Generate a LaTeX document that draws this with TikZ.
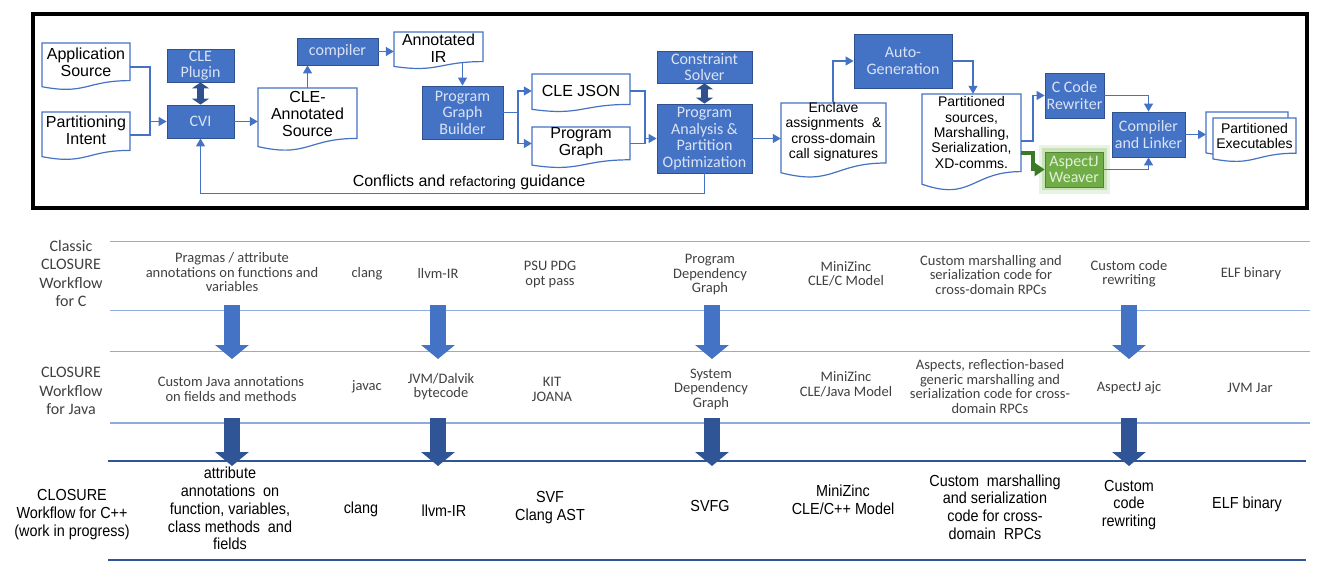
\documentclass[tikz,border=0pt]{standalone}
\usepackage{fontspec}
\setmainfont{Liberation Sans}
\newfontfamily\calibri{Carlito}
\newfontfamily\narrowsans[FakeStretch=0.9]{Liberation Sans}
\usetikzlibrary{arrows.meta}

\definecolor{cleblue}{HTML}{4472C4}
\definecolor{cleedge}{HTML}{2F528F}
\definecolor{cletext}{HTML}{DAE3F3}
\definecolor{darkblue}{HTML}{2F5597}
\definecolor{lineblue}{HTML}{8FAADC}
\definecolor{weavegreen}{HTML}{70AD47}
\definecolor{weaveedge}{HTML}{548235}
\definecolor{glowgreen}{HTML}{A9D18E}
\definecolor{arrowgreen}{HTML}{3B7A25}
\definecolor{weavetext}{HTML}{E2F0D9}
\definecolor{celltext}{HTML}{404040}

% document shape with wavy bottom: x1, top, x2, height
\newcommand{\docshape}[4]{%
  \draw[docline] (#1,#2) -- (#3,#2) -- (#3,{#2+0.80*#4})
    .. controls ({(#1+#3)/2},{#2+0.80*#4}) and ({(#1+#3)/2},{#2+1.11*#4}) .. (#1,{#2+0.93*#4}) -- cycle;}

\begin{document}
\begin{tikzpicture}[x=1pt, y=-1pt,
    proc/.style={fill=cleblue, draw=cleedge, line width=0.8pt, text=cletext,
      font=\calibri\fontsize{16}{16.5}\selectfont, align=center, inner sep=0pt},
    weave/.style={proc, fill=weavegreen, draw=weaveedge, text=weavetext,
      preaction={draw=glowgreen, line width=13pt, opacity=0.25},
      preaction={draw=glowgreen, line width=7pt, opacity=0.5}},
    docline/.style={draw=cleblue, fill=white, line width=1.2pt},
    doctext/.style={font=\fontsize{16}{17}\selectfont, align=center, inner sep=0pt},
    docsmall/.style={doctext, font=\fontsize{14}{15.3}\selectfont},
    wire/.style={cleblue, line width=1.2pt},
    flow/.style={wire, -{Triangle[width=9pt,length=8pt]}},
    greenflow/.style={arrowgreen, line width=3.2pt, -{Triangle[width=13pt,length=10pt]}},
    dbl/.style={cleedge, line width=7pt, {Triangle[width=17pt,length=6pt]}-{Triangle[width=17pt,length=6pt]}},
    bigarrow/.style={line width=16pt, -{Triangle[width=33pt,length=14pt]}},
    rowlabel/.style={font=\calibri\fontsize{16}{18.3}\selectfont, align=center, text=celltext},
    cell/.style={font=\calibri\fontsize{14.5}{14.5}\selectfont, align=center, text=celltext},
    cellcpp/.style={font=\narrowsans\fontsize{16}{17.8}\selectfont, align=center}]
  \useasboundingbox (0,0) rectangle (1324,580);

  % ---- CLOSURE toolchain ----
  \draw[line width=3.5pt] (33,14) rectangle (1307,208);

  \docshape{42}{43}{130}{47}
  \node[doctext, minimum width=88pt] (appsrc) at (86,62.5) {Application\\Source};
  \docshape{42}{112}{130}{48}
  \node[doctext, minimum width=88pt] (partint) at (86,130) {Partitioning\\Intent};
  \docshape{258}{88}{357}{63}
  \node[doctext, minimum width=99pt, minimum height=51pt] (cleann) at (307.5,113.5) {CLE-\\Annotated\\Source};
  \docshape{394}{32}{483}{37}
  \node[doctext, minimum width=89pt] (annir) at (438.5,48.5) {Annotated\\IR};
  \docshape{532}{74}{630}{38}
  \node[doctext, minimum width=98pt] (clejson) at (581,91) {CLE JSON};
  \docshape{532}{127}{630}{41}
  \node[doctext, minimum width=98pt] (proggraph) at (581,143.5) {Program\\Graph};
  \docshape{781}{103}{886}{75}
  \node[docsmall, minimum width=105pt, minimum height=58pt] (enclave) at (833.5,132) {Enclave\\assignments~~\&\\cross-domain\\call signatures};
  \docshape{922}{94}{1021}{97}
  \node[docsmall, minimum width=99pt, minimum height=77pt] (partsrc) at (971.5,132.5) {Partitioned\\sources,\\Marshalling,\\Serialization,\\XD-comms.};
  \docshape{1206}{112}{1288}{44}
  \docshape{1213}{118}{1296}{44}
  \node[docsmall, minimum width=83pt] (exec) at (1254.5,136) {Partitioned\\Executables};
  \coordinate (execback) at (1206,134.5);

  \node[proc, minimum width=67pt, minimum height=33pt] (cleplugin) at (200.5,65.5) {CLE\\Plugin};
  \node[proc, minimum width=67pt, minimum height=33pt] (cvi) at (200.5,121.5) {CVI};
  \node[proc, minimum width=81pt, minimum height=27pt] (compiler) at (337.5,51.5) {compiler};
  \node[proc, minimum width=81pt, minimum height=53pt] (pgb) at (462.5,112.5) {Program\\Graph\\Builder};
  \node[proc, minimum width=95pt, minimum height=32pt] (solver) at (704.5,67) {Constraint\\Solver};
  \node[proc, minimum width=95pt, minimum height=69pt] (papo) at (704.5,138.5) {Program\\Analysis \&\\Partition\\Optimization};
  \node[proc, minimum width=98pt, minimum height=54pt] (autogen) at (903,61) {Auto-\\Generation};
  \node[proc, minimum width=59pt, minimum height=45pt] (rewriter) at (1074.5,95.5) {C Code\\Rewriter};
  \node[weave, minimum width=58pt, minimum height=35pt] (weaver) at (1074,169.5) {AspectJ\\Weaver};
  \node[proc, minimum width=73pt, minimum height=45pt] (linker) at (1148.5,134.5) {Compiler\\and Linker};

  \coordinate (j1) at (150,121.5);
  \coordinate (j2) at (518,112.5);
  \coordinate (j3) at (645,138.5);
  \coordinate (e1) at (833,62);
  \coordinate (a1) at (973,0);
  \coordinate (p1) at (1033,141);
  \coordinate (p2) at (1033,153);

  \draw[wire] ([yshift=-4.5pt]appsrc.east) -| (j1);
  \draw[wire] ([yshift=-5pt]partint.east) -| (j1);
  \draw[flow] (j1) -- (cvi.west);
  \draw[dbl] (cleplugin.south) -- (cvi.north);
  \draw[flow] (cvi.east) -- (cvi.east -| cleann.west);
  \draw[flow] (cleann.north) -- (cleann.north |- compiler.south);
  \draw[flow] (compiler.east) -- (compiler.east -| annir.west);
  \draw[flow] (pgb.north |- 0,63) -- (pgb.north);
  \draw[wire] (pgb.east) -- (j2);
  \draw[flow] (j2) |- (clejson.west);
  \draw[flow] (j2) |- (proggraph.west);
  \draw[wire] (clejson.east) -| (j3);
  \draw[wire] (proggraph.east) -| (j3);
  \draw[flow] (j3) -- (papo.west);
  \draw[dbl] (solver.south) -- (papo.north);
  \draw[flow] (papo.east) -- (papo.east -| enclave.west);
  \draw[flow] (e1 |- enclave.north) |- (autogen.west);
  \draw[flow] (autogen.east) -| (a1 |- partsrc.north);
  \draw[flow] (partsrc.east |- p1) -- (p1) |- (rewriter.west);
  \draw[greenflow] (partsrc.east |- p2) -- (p2) |- (weaver.west);
  \draw[flow] (rewriter.east) -| (linker.north);
  \draw[flow] (weaver.east) -| (linker.south);
  \draw[flow] (linker.east) -- (execback);
  \draw[flow] (papo.south) -- ++(0,20) -| (cvi.south);
  \node[inner sep=0pt] (conflicts) at (469,182)
    {\fontsize{16}{16}\selectfont Conflicts and {\fontsize{14}{14}\selectfont refactoring} guidance};

  % ---- workflow table ----
  \foreach \y in {241.5, 310.5, 351.5, 423} {
      \draw[lineblue, line width=1.3pt] (110,\y) -- (1310,\y);
    }
  \foreach \y in {461, 560} {
      \draw[darkblue, line width=2.4pt] (108,\y) -- (1306,\y);
    }
  \foreach \x in {232, 438, 712, 1129} {
      \draw[bigarrow, cleblue] (\x,305) -- (\x,359);
      \draw[bigarrow, darkblue] (\x,418) -- (\x,466);
    }

  \node[rowlabel] (rowc) at (71,273.5) {Classic\\CLOSURE\\Workflow\\for C};
  \node[rowlabel] (rowjava) at (71,391) {CLOSURE\\Workflow\\for Java};
  \node[cellcpp, font=\narrowsans\fontsize{16}{18}\selectfont] (rowcpp) at (72,515) {CLOSURE\\Workflow for C++\\(work in progress)};

  \node[cell] (c1) at (232,272.5) {Pragmas / attribute\\annotations on functions and\\variables};
  \node[cell] (c2) at (367,274) {clang};
  \node[cell] (c3) at (438,273) {llvm-IR};
  \node[cell] (c4) at (550,274.5) {PSU PDG\\opt pass};
  \node[cell] (c5) at (710,275) {Program\\Dependency\\Graph};
  \node[cell] (c6) at (846,274) {MiniZinc\\CLE/C Model};
  \node[cell] (c7) at (991,275) {Custom marshalling and\\serialization code for\\cross-domain RPCs};
  \node[cell] (c8) at (1129,273.5) {Custom code\\rewriting};
  \node[cell] (c9) at (1251,274) {ELF binary};

  \node[cell] (j1c) at (231,389) {Custom Java annotations\\on fields and methods};
  \node[cell] (j2c) at (367,387) {javac};
  \node[cell] (j3c) at (441,386.5) {JVM/Dalvik\\bytecode};
  \node[cell] (j4c) at (552,389.5) {KIT\\JOANA};
  \node[cell] (j5c) at (711,389) {System\\Dependency\\Graph};
  \node[cell] (j6c) at (846,384.5) {MiniZinc\\CLE/Java Model};
  \node[cell] (j7c) at (990,386.5) {Aspects, reflection-based\\generic marshalling and\\serialization code for cross-\\domain RPCs};
  \node[cell] (j8c) at (1129,388) {AspectJ ajc};
  \node[cell] (j9c) at (1250,388) {JVM Jar};

  \node[cellcpp] (p1c) at (230,508.5) {attribute\\annotations~ on\\function, variables,\\class methods~ and\\fields};
  \node[cellcpp] (p2c) at (361,509) {clang};
  \node[cellcpp] (p3c) at (444,511) {llvm-IR};
  \node[cellcpp] (p4c) at (550,507.5) {SVF\\Clang AST};
  \node[cellcpp] (p5c) at (710,506) {SVFG};
  \node[cellcpp] (p6c) at (843,500) {MiniZinc\\CLE/C++ Model};
  \node[cellcpp] (p7c) at (995,507) {Custom~ marshalling\\and serialization\\code for cross-\\domain~ RPCs};
  \node[cellcpp] (p8c) at (1129,505) {Custom\\code\\rewriting};
  \node[cellcpp] (p9c) at (1247,504) {ELF binary};
\end{tikzpicture}
\end{document}
